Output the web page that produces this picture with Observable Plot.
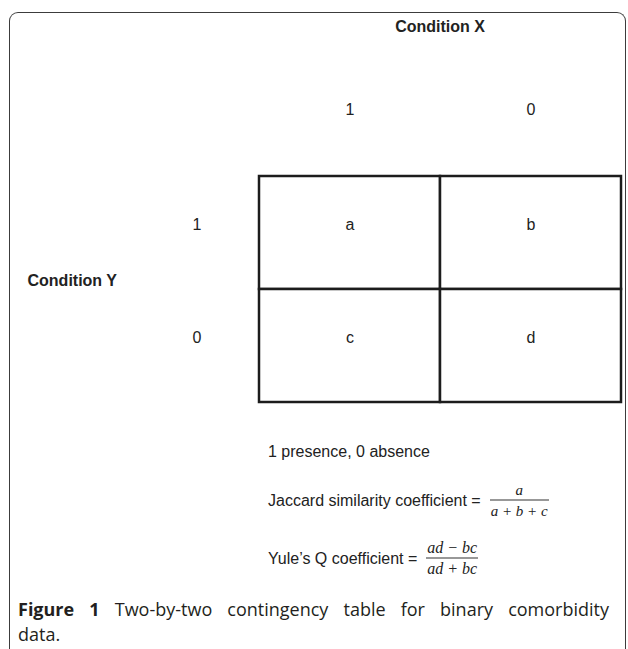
<!DOCTYPE html>
<html>
<head>
<meta charset="utf-8">
<script src="https://cdn.jsdelivr.net/npm/d3@7"></script>
<script src="https://cdn.jsdelivr.net/npm/@observablehq/plot@0.6"></script>
<style>
  html, body { margin: 0; padding: 0; background: #fff; }
  body { width: 628px; height: 649px; position: relative; overflow: hidden; font-family: "Liberation Sans", Arial, sans-serif; color: #222; }
  #frame { position: absolute; left: 9px; top: 12px; width: 617px; height: 700px; border: 1.6px solid #3c3c3c; border-bottom: none; border-radius: 9px 9px 0 0; box-sizing: border-box; }
  #chart { position: absolute; left: 0; top: 0; }
  .line { position: absolute; left: 268px; transform: translateY(-50%); display: flex; align-items: center; font-size: 16px; white-space: nowrap; }
  .frac { display: inline-flex; flex-direction: column; align-items: stretch; font-family: "Liberation Serif", "Times New Roman", serif; font-style: italic; margin-left: 9px; }
  .frac span { display: block; text-align: center; line-height: 20px; padding: 0 1px; }
  .frac .den { border-top: 1px solid #333; }
  #caption { position: absolute; left: 18px; top: 597px; width: 591px; font-family: "Open Sans", "Noto Sans", sans-serif; font-size: 18px; line-height: 24.5px; color: #231f20; }
  #caption .l1 { text-align: justify; text-align-last: justify; white-space: nowrap; }
</style>
</head>
<body>
<div id="frame"></div>
<div id="chart"></div>
<div class="line" style="top:452px">1 presence, 0 absence</div>
<div class="line" style="top:500px"><span>Jaccard similarity coefficient =</span><span class="frac" style="font-size:15px"><span class="num">a</span><span class="den">a + b + c</span></span></div>
<div class="line" style="top:558px"><span>Yule’s Q coefficient =</span><span class="frac" style="font-size:16px"><span class="num">ad − bc</span><span class="den">ad + bc</span></span></div>
<div id="caption"><div class="l1"><b>Figure 1</b> Two-by-two contingency table for binary comorbidity</div><div>data.</div></div>
<script>
// Data
const colKeys = ["1", "0"];           // Condition X levels
const rowKeys = ["1", "0"];           // Condition Y levels
const cellLabels = ["a", "b", "c", "d"];
const xTitle = "Condition X";
const yTitle = "Condition Y";

const cells = [];
rowKeys.forEach((r, i) => colKeys.forEach((c, j) => cells.push({row: r, col: c, label: cellLabels[i * 2 + j]})));

const chart = Plot.plot({
  width: 628,
  height: 420,
  marginLeft: 258,
  marginRight: 7,
  marginTop: 176,
  marginBottom: 18,
  x: {type: "band", domain: colKeys, padding: 0, axis: null},
  y: {type: "band", domain: rowKeys, padding: 0, axis: null},
  style: {fontFamily: "'Liberation Sans', Arial, sans-serif", fontSize: "16px", color: "#222", background: "transparent", overflow: "visible"},
  marks: [
    Plot.cell(cells, {x: "col", y: "row", fill: "white", stroke: "#1c1c1c", strokeWidth: 2.5}),
    Plot.text(cells, {x: "col", y: "row", text: "label", dy: -8, fontSize: 16, fill: "#222"}),
    Plot.text(colKeys, {x: d => d, text: d => d, frameAnchor: "top", lineAnchor: "middle", dy: -67, fontSize: 16, fill: "#222"}),
    Plot.text(rowKeys, {y: d => d, text: d => d, frameAnchor: "left", lineAnchor: "middle", dx: -66, dy: -8, fontSize: 16, fill: "#222"}),
    Plot.text([xTitle], {text: d => d, frameAnchor: "top", lineAnchor: "middle", dy: -150, fontSize: 16, fontWeight: "bold", fill: "#222"}),
    Plot.text([yTitle], {text: d => d, frameAnchor: "left", lineAnchor: "middle", textAnchor: "start", dx: -231, dy: -9, fontSize: 16, fontWeight: "bold", fill: "#222"})
  ]
});
document.getElementById("chart").appendChild(chart);
</script>
</body>
</html>
